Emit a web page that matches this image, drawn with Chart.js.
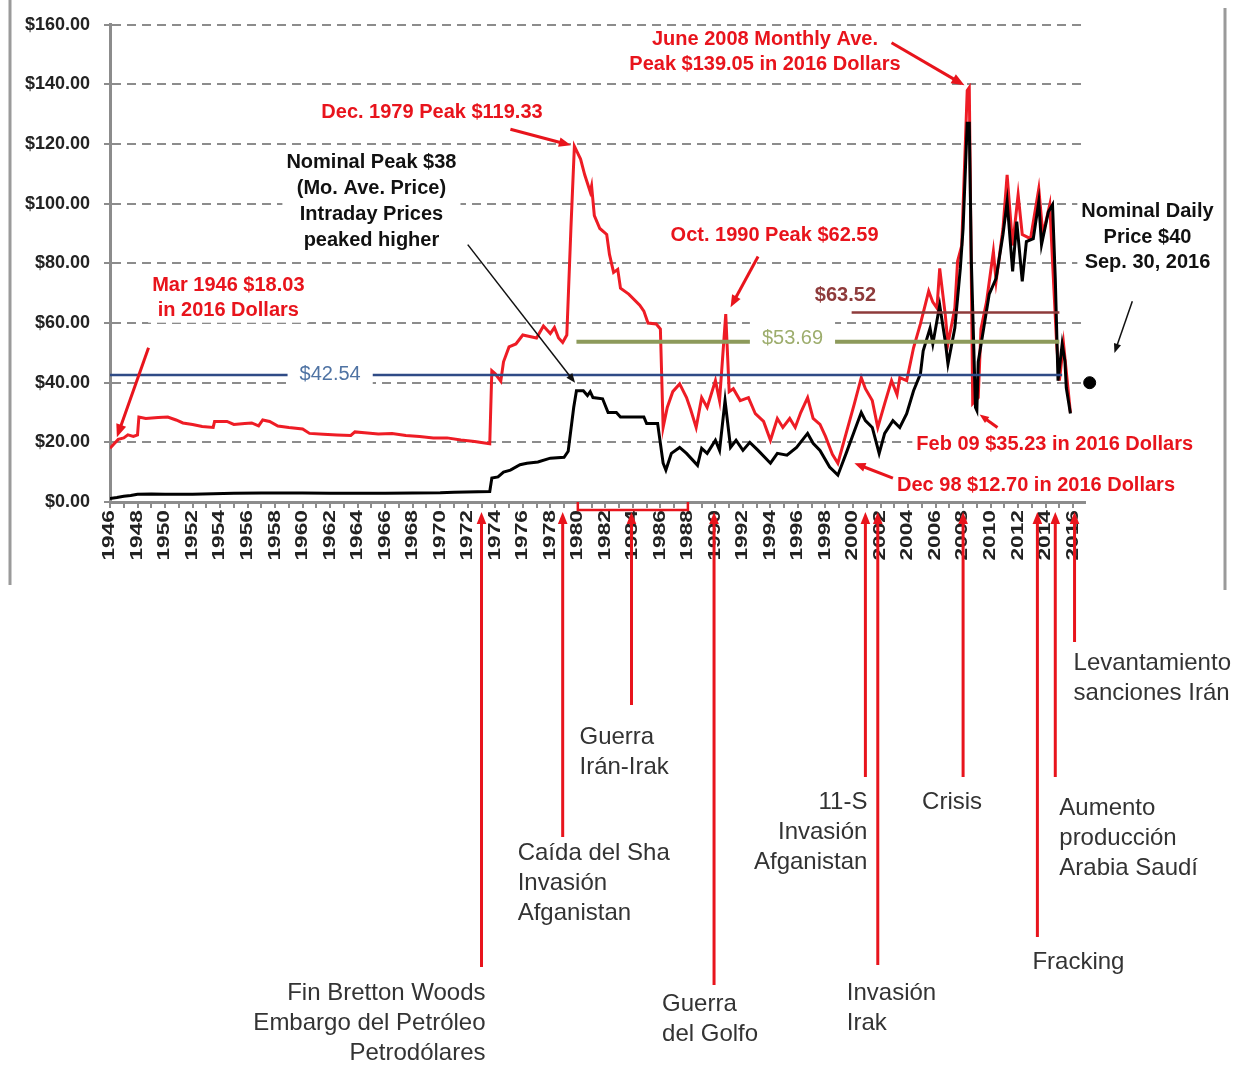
<!DOCTYPE html>
<html>
<head>
<meta charset="utf-8">
<script src="https://cdn.jsdelivr.net/npm/chart.js@4.4.0/dist/chart.umd.min.js"></script>
<style>
  html, body { margin: 0; padding: 0; background: #fff; }
  #wrap { width: 1237px; height: 1066px; position: relative; }
</style>
</head>
<body>
<div id="wrap"><canvas id="oilChart"></canvas></div>
<script>
// oil price in 2016 dollars (red) and nominal (black)
const realYears = [
  1946.0, 1946.3, 1946.6, 1947.0, 1947.3, 1947.7, 1948.0, 1948.1, 1948.6, 1949.5,
  1950.2, 1950.8, 1951.3, 1952.0, 1952.7, 1953.5, 1953.6, 1954.5, 1955.0, 1955.8,
  1956.3, 1956.8, 1957.1, 1957.6, 1958.2, 1959.0, 1960.0, 1960.5, 1961.5, 1962.5,
  1963.5, 1963.8, 1964.5, 1965.5, 1966.5, 1967.5, 1968.5, 1969.5, 1970.5, 1971.5,
  1972.5, 1973.6, 1973.75, 1974.0, 1974.4, 1974.6, 1975.0, 1975.5, 1976.0, 1976.5,
  1977.0, 1977.5, 1978.0, 1978.3, 1978.6, 1978.9, 1979.2, 1979.5, 1979.75, 1980.2,
  1980.5, 1980.9, 1981.0, 1981.2, 1981.6, 1982.1, 1982.3, 1982.6, 1982.9, 1983.1,
  1983.7, 1984.5, 1984.8, 1985.1, 1985.7, 1986.0, 1986.2, 1986.5, 1986.9, 1987.4,
  1987.9, 1988.2, 1988.6, 1989.0, 1989.4, 1990.0, 1990.3, 1990.75, 1991.0, 1991.3,
  1991.8, 1992.4, 1992.9, 1993.5, 1994.0, 1994.5, 1994.9, 1995.4, 1995.8, 1996.2,
  1996.7, 1997.1, 1997.6, 1998.0, 1998.5, 1998.9, 1999.5, 2000.1, 2000.6, 2000.9,
  2001.4, 2001.8, 2002.3, 2002.8, 2003.2, 2003.4, 2003.9, 2004.4, 2004.9, 2005.5,
  2005.8, 2006.1, 2006.3, 2006.7, 2006.9, 2007.4, 2007.6, 2007.9, 2008.3, 2008.45,
  2008.7, 2009.1, 2009.3, 2009.7, 2010.2, 2010.4, 2010.9, 2011.2, 2011.6, 2012.0,
  2012.3, 2012.9, 2013.5, 2013.8, 2014.3, 2014.5, 2014.8, 2015.0, 2015.3, 2015.8
];
const realPrices = [
  18.0, 19.5, 21.0, 21.5, 22.5, 22.0, 22.5, 28.5, 28.0, 28.3,
  28.5, 27.5, 26.5, 26.0, 25.3, 25.0, 27.0, 27.0, 26.0, 26.3,
  26.5, 25.5, 27.5, 27.0, 25.5, 25.0, 24.5, 23.0, 22.7, 22.5,
  22.3, 23.5, 23.2, 22.8, 23.0, 22.3, 22.0, 21.5, 21.5, 20.8,
  20.3, 19.5, 44.0, 43.0, 40.5, 47.0, 52.0, 53.0, 56.0, 55.5,
  55.0, 59.0, 56.5, 58.5, 55.0, 53.5, 56.0, 92.0, 119.3, 115.0,
  109.7, 104.0, 106.0, 96.0, 91.7, 89.7, 83.0, 77.0, 78.0, 71.7,
  69.7, 66.0, 64.0, 60.0, 59.7, 58.0, 25.0, 31.7, 37.0, 39.6,
  35.0, 31.0, 25.0, 35.0, 31.7, 40.7, 34.0, 63.0, 37.0, 38.0,
  34.0, 35.0, 29.6, 27.0, 20.7, 28.0, 25.0, 28.0, 25.0, 30.0,
  35.0, 28.0, 26.0, 22.0, 16.0, 13.0, 23.0, 33.0, 41.7, 38.0,
  34.0, 25.0, 33.0, 40.7, 36.0, 41.7, 40.7, 51.7, 59.7, 70.7,
  67.0, 65.0, 78.3, 63.0, 53.0, 65.0, 80.7, 86.0, 138.0, 139.0,
  33.0, 35.0, 58.0, 67.0, 84.0, 74.0, 91.7, 109.7, 86.0, 103.0,
  89.7, 88.3, 105.0, 89.7, 99.7, 80.7, 53.0, 40.7, 53.0, 30.0
];
const nominalYears = [
  1946.0, 1946.5, 1947.0, 1947.5, 1948.0, 1949.0, 1950.0, 1952.0, 1953.5, 1955.0,
  1957.0, 1960.0, 1962.0, 1964.0, 1966.0, 1968.0, 1970.0, 1971.0, 1973.6, 1973.75,
  1974.2, 1974.6, 1975.1, 1975.8, 1976.3, 1977.1, 1978.0, 1979.0, 1979.3, 1979.7,
  1979.9, 1980.4, 1980.7, 1980.9, 1981.1, 1981.8, 1982.2, 1982.8, 1983.1, 1984.8,
  1985.0, 1985.8, 1986.2, 1986.4, 1986.8, 1987.4, 1987.9, 1988.7, 1989.0, 1989.4,
  1990.0, 1990.3, 1990.7, 1991.1, 1991.5, 1992.0, 1992.5, 1993.1, 1994.0, 1994.5,
  1995.2, 1995.9, 1996.7, 1997.1, 1997.6, 1998.3, 1998.9, 1999.5, 2000.3, 2000.6,
  2000.9, 2001.4, 2001.9, 2002.3, 2002.9, 2003.4, 2003.9, 2004.4, 2004.9, 2005.1,
  2005.6, 2005.8, 2006.3, 2006.7, 2006.9, 2007.4, 2007.8, 2008.0, 2008.3, 2008.45,
  2008.6, 2008.9, 2009.0, 2009.1, 2009.5, 2009.9, 2010.4, 2010.9, 2011.2, 2011.6,
  2011.9, 2012.3, 2012.6, 2013.1, 2013.5, 2013.7, 2014.2, 2014.5, 2014.7, 2014.9,
  2015.2, 2015.4, 2015.5, 2015.8
];
const nominalPrices = [
  1.2, 1.5, 1.9, 2.2, 2.6, 2.7, 2.6, 2.6, 2.8, 2.9,
  3.0, 3.0, 2.9, 2.9, 2.9, 3.0, 3.1, 3.3, 3.5, 8.0,
  8.4, 10.0, 10.7, 12.5, 13.0, 13.4, 14.7, 15.0, 17.0, 31.7,
  37.3, 37.3, 35.7, 37.0, 35.0, 34.6, 30.0, 30.0, 28.5, 28.5,
  26.3, 26.3, 13.0, 10.7, 16.3, 18.3, 16.3, 12.3, 18.0, 16.3,
  20.7, 17.3, 34.0, 18.3, 20.7, 17.3, 20.0, 17.3, 13.0, 16.3,
  15.7, 18.3, 23.0, 19.7, 17.3, 11.7, 9.0, 16.3, 26.3, 30.0,
  27.3, 25.0, 16.3, 23.0, 27.3, 25.0, 29.6, 37.3, 43.0, 50.7,
  58.3, 53.0, 66.0, 54.0, 46.3, 58.3, 78.3, 91.7, 127.0, 127.0,
  80.7, 31.7, 30.7, 47.0, 58.3, 69.7, 75.0, 89.7, 100.7, 77.3,
  94.0, 74.0, 87.3, 88.3, 100.7, 86.3, 97.3, 99.7, 75.0, 40.7,
  53.0, 47.3, 38.3, 29.7
];
// nominal daily price, Sep. 30, 2016
const spotYears = [2017.2];
const spotPrices = [40];

const yearLabels = [
  1946, 1948, 1950, 1952, 1954, 1956, 1958, 1960, 1962, 1964, 1966, 1968,
  1970, 1972, 1974, 1976, 1978, 1980, 1982, 1984, 1986, 1988, 1990, 1992,
  1994, 1996, 1998, 2000, 2002, 2004, 2006, 2008, 2010, 2012, 2014, 2016
];

// average price lines
const refValues = [42.54, 53.69, 63.52];
const refFrom = [1946, 1979.9, 1999.9];
const refTo = [2015.2, 2015.0, 2015.0];
const refLabels = ['$42.54', '$53.69', '$63.52'];

// events marked under the axis
const eventYears = [1973.0, 1978.9, 1983.9, 1989.9, 2000.9, 2001.8, 2008.0, 2013.4, 2014.7, 2016.1];
const eventLabels = [
  ['Fin Bretton Woods', 'Embargo del Petróleo', 'Petrodólares'],
  ['Caída del Sha', 'Invasión', 'Afganistan'],
  ['Guerra', 'Irán-Irak'],
  ['Guerra', 'del Golfo'],
  ['11-S', 'Invasión', 'Afganistan'],
  ['Invasión', 'Irak'],
  ['Crisis'],
  ['Fracking'],
  ['Aumento', 'producción', 'Arabia Saudí'],
  ['Levantamiento', 'sanciones Irán']
];
const bracketYears = [1980, 1988];

const RED = '#e8141c';
const FONT = "'Liberation Sans', Arial, sans-serif";

// layout of the drawn extras (pixels / positions on the scales)
const refStyle = [
  { line: '#2f4b86', width: 2.5, text: '#4f73a3', labelYear: 1962.0, dy: -1, gap: true, top: -13, bottom: 13, weight: 'normal' },
  { line: '#8d9a5b', width: 4, text: '#9dad6d', labelYear: 1995.6, dy: -3, gap: true, top: -21, bottom: 14, weight: 'normal' },
  { line: '#8e3b3b', width: 2.5, text: '#8e3b3b', labelYear: 1999.45, dy: -17, gap: false, weight: 'bold' }
];
const eventLayout = [
  { bottom: 967, align: 'right', dx: 4, top: 993 },
  { bottom: 837, align: 'left', dx: -45, top: 853 },
  { bottom: 705, align: 'left', dx: -52, top: 737 },
  { bottom: 985, align: 'left', dx: -52, top: 1004 },
  { bottom: 777, align: 'right', dx: 2, top: 802 },
  { bottom: 965, align: 'left', dx: -31, top: 993 },
  { bottom: 777, align: 'left', dx: -41, top: 802 },
  { bottom: 937, align: 'left', dx: -5, top: 962 },
  { bottom: 777, align: 'left', dx: 4, top: 808 },
  { bottom: 642, align: 'left', dx: -1, top: 663 }
];
const notes = [
  { lines: ['Mar 1946 $18.03', 'in 2016 Dollars'], at: [1954.6, 72.7], align: 'center', step: 25, color: RED,
    arrow: [[1948.8, 51.7], [1946.5, 21.7]], aw: 3, head: 14 },
  { lines: ['Dec. 1979 Peak $119.33'], at: [1969.4, 130.7], align: 'center', step: 25, color: RED,
    arrow: [[1975.1, 125], [1979.5, 119.6]], aw: 3, head: 13 },
  { lines: ['Nominal Peak $38', '(Mo. Ave. Price)', 'Intraday Prices', 'peaked higher'], at: [1965.0, 113.7], align: 'center', step: 26, color: '#111',
    arrow: [[1972.0, 86.3], [1979.8, 40]], aw: 1.5, head: 10 },
  { lines: ['June 2008 Monthly Ave.', 'Peak $139.05 in 2016 Dollars'], at: [1993.6, 155], align: 'center', step: 25, color: RED,
    arrow: [[2002.8, 154], [2008.1, 139.7]], aw: 3, head: 14 },
  { lines: ['Oct. 1990 Peak $62.59'], at: [1994.3, 89.3], align: 'center', step: 25, color: RED,
    arrow: [[1993.1, 82.3], [1991.1, 65.3]], aw: 3, head: 13 },
  { lines: ['Nominal Daily', 'Price $40', 'Sep. 30, 2016'], at: [2021.4, 97.3], align: 'center', step: 25.5, color: '#111',
    arrow: [[2020.3, 67.3], [2019.0, 50]], aw: 1.5, head: 10 },
  { lines: ['Feb 09 $35.23 in 2016 Dollars'], at: [2004.6, 19.3], align: 'left', step: 25, color: RED,
    arrow: [[2010.5, 25], [2009.2, 29.3]], aw: 3, head: 10 },
  { lines: ['Dec 98 $12.70 in 2016 Dollars'], at: [2003.2, 5.7], align: 'left', step: 25, color: RED,
    arrow: [[2002.9, 8], [2000.1, 13]], aw: 3, head: 12 }
];

function arrow(ctx, x1, y1, x2, y2, color, width, head) {
  const a = Math.atan2(y2 - y1, x2 - x1);
  ctx.save();
  ctx.strokeStyle = color;
  ctx.fillStyle = color;
  ctx.lineWidth = width;
  ctx.beginPath();
  ctx.moveTo(x1, y1);
  ctx.lineTo(x2 - Math.cos(a) * head * 0.7, y2 - Math.sin(a) * head * 0.7);
  ctx.stroke();
  ctx.beginPath();
  ctx.moveTo(x2, y2);
  ctx.lineTo(x2 - head * Math.cos(a - 0.38), y2 - head * Math.sin(a - 0.38));
  ctx.lineTo(x2 - head * Math.cos(a + 0.38), y2 - head * Math.sin(a + 0.38));
  ctx.closePath();
  ctx.fill();
  ctx.restore();
}

function textBlock(ctx, lines, x, y, step, align, font, color, box) {
  ctx.font = font;
  const w = Math.max(...lines.map(l => ctx.measureText(l).width));
  if (box) {
    const left = align === 'center' ? x - w / 2 : align === 'left' ? x : x - w;
    ctx.fillStyle = '#fff';
    ctx.fillRect(left - 4, y - step / 2, w + 8, step * lines.length);
  }
  ctx.fillStyle = color;
  ctx.textAlign = align;
  ctx.textBaseline = 'middle';
  lines.forEach((l, i) => ctx.fillText(l, x, y + i * step));
}

const extras = {
  id: 'extras',
  afterDatasetsDraw(chart) {
    const ctx = chart.ctx;
    const xs = chart.scales.x, ys = chart.scales.y;
    const area = chart.chartArea;
    ctx.save();

    // average lines with their labels
    refValues.forEach((v, i) => {
      const st = refStyle[i];
      const y = ys.getPixelForValue(v);
      ctx.strokeStyle = st.line;
      ctx.lineWidth = st.width;
      ctx.beginPath();
      ctx.moveTo(xs.getPixelForValue(refFrom[i]), y);
      ctx.lineTo(xs.getPixelForValue(refTo[i]), y);
      ctx.stroke();
      ctx.font = st.weight + ' 20px ' + FONT;
      const lx = xs.getPixelForValue(st.labelYear);
      const w = ctx.measureText(refLabels[i]).width;
      if (st.gap) {
        ctx.fillStyle = '#fff';
        ctx.fillRect(lx - w / 2 - 12, y + st.top, w + 24, st.bottom - st.top);
      }
      ctx.fillStyle = st.text;
      ctx.textAlign = 'center';
      ctx.textBaseline = 'middle';
      ctx.fillText(refLabels[i], lx, y + st.dy);
    });

    // year labels, stretched like the original
    ctx.fillStyle = '#222';
    ctx.font = 'bold 16px ' + FONT;
    ctx.textAlign = 'right';
    ctx.textBaseline = 'middle';
    yearLabels.forEach(yr => {
      ctx.save();
      ctx.translate(xs.getPixelForValue(yr), area.bottom + 8);
      ctx.rotate(-Math.PI / 2);
      ctx.scale(1.42, 1);
      ctx.fillText(String(yr), 0, 0);
      ctx.restore();
    });

    // bracket for the Iran-Iraq war
    const bx1 = xs.getPixelForValue(bracketYears[0]);
    const bx2 = xs.getPixelForValue(bracketYears[1]);
    ctx.strokeStyle = RED;
    ctx.lineWidth = 2.5;
    ctx.beginPath();
    ctx.moveTo(bx1, area.bottom);
    ctx.lineTo(bx1, area.bottom + 8);
    ctx.lineTo(bx2, area.bottom + 8);
    ctx.lineTo(bx2, area.bottom);
    ctx.stroke();

    // event arrows and labels
    eventYears.forEach((yr, i) => {
      const lay = eventLayout[i];
      const x = xs.getPixelForValue(yr);
      arrow(ctx, x, lay.bottom, x, area.bottom + 10, RED, 3, 13);
      textBlock(ctx, eventLabels[i], x + lay.dx, lay.top, 30, lay.align, '24px ' + FONT, '#333', false);
    });

    // notes with arrows
    notes.forEach(n => {
      const x = xs.getPixelForValue(n.at[0]);
      const y = ys.getPixelForValue(n.at[1]);
      textBlock(ctx, n.lines, x, y, n.step, n.align, 'bold 20px ' + FONT, n.color, true);
      const p1 = n.arrow[0], p2 = n.arrow[1];
      arrow(ctx, xs.getPixelForValue(p1[0]), ys.getPixelForValue(p1[1]),
        xs.getPixelForValue(p2[0]), ys.getPixelForValue(p2[1]), n.color, n.aw, n.head);
    });

    // frame of the original picture
    ctx.strokeStyle = '#9a9a9a';
    ctx.lineWidth = 3;
    ctx.beginPath();
    ctx.moveTo(10, 0); ctx.lineTo(10, 585);
    ctx.moveTo(1225, 8); ctx.lineTo(1225, 590);
    ctx.stroke();
    ctx.restore();
  }
};

Chart.defaults.font.family = FONT;

new Chart(document.getElementById('oilChart').getContext('2d'), {
  type: 'line',
  data: {
    datasets: [
      {
        label: 'Sep. 30, 2016',
        data: spotYears.map((x, i) => ({ x, y: spotPrices[i] })),
        showLine: false,
        pointRadius: 6,
        pointBackgroundColor: '#000',
        pointBorderColor: '#000',
        clip: false,
        order: 0
      },
      {
        label: 'Nominal',
        data: nominalYears.map((x, i) => ({ x, y: nominalPrices[i] })),
        borderColor: '#000',
        borderWidth: 3,
        pointRadius: 0,
        order: 1
      },
      {
        label: '2016 Dollars',
        data: realYears.map((x, i) => ({ x, y: realPrices[i] })),
        borderColor: '#ee1c25',
        borderWidth: 3,
        pointRadius: 0,
        order: 2
      }
    ]
  },
  options: {
    responsive: true,
    maintainAspectRatio: false,
    animation: false,
    events: [],
    layout: { padding: { left: 10, right: 152, top: 22, bottom: 534 } },
    plugins: { legend: { display: false }, tooltip: { enabled: false } },
    scales: {
      x: {
        type: 'linear',
        min: 1946,
        max: 2016.86,
        afterFit(scale) { scale.height = 30; },
        ticks: { stepSize: 1, autoSkip: false, includeBounds: false, callback: () => '' },
        grid: { drawOnChartArea: false, drawTicks: true, tickLength: 6, color: '#8c8c8c', lineWidth: 2 },
        border: { color: '#8c8c8c', width: 3 }
      },
      y: {
        min: 0,
        max: 160,
        afterFit(scale) { scale.width = 100; },
        ticks: {
          stepSize: 20,
          padding: 14,
          color: '#222',
          font: { size: 18, weight: 'bold' },
          callback: v => '$' + v.toFixed(2)
        },
        grid: { color: '#8c8c8c', lineWidth: 2, tickLength: 6 },
        border: { color: '#8c8c8c', width: 3, dash: [9, 6] }
      }
    }
  },
  plugins: [extras]
});
</script>
</body>
</html>
